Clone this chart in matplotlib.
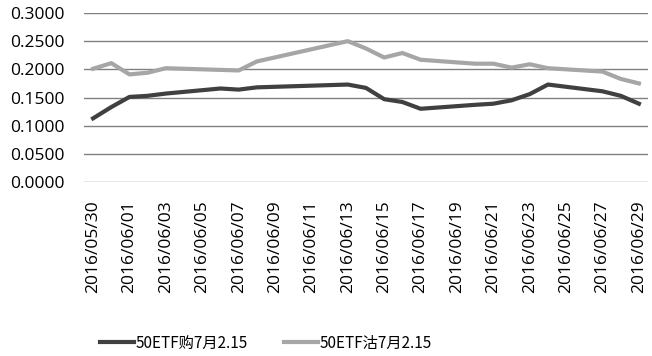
import matplotlib
matplotlib.use("Agg")
import matplotlib.pyplot as plt
import pandas as pd
import numpy as np

plt.rcParams['font.family'] = ['Open Sans', 'Noto Sans CJK SC', 'DejaVu Sans']

dates = ["2016/05/30", "2016/05/31", "2016/06/01", "2016/06/02", "2016/06/03",
         "2016/06/06", "2016/06/07", "2016/06/08", "2016/06/13", "2016/06/14",
         "2016/06/15", "2016/06/16", "2016/06/17", "2016/06/20", "2016/06/21",
         "2016/06/22", "2016/06/23", "2016/06/24", "2016/06/27", "2016/06/28",
         "2016/06/29"]
call_vals = [0.113, 0.133, 0.151, 0.153, 0.157, 0.166, 0.164, 0.168, 0.173, 0.167,
             0.147, 0.142, 0.130, 0.137, 0.139, 0.145, 0.156, 0.173, 0.161, 0.153,
             0.139]
put_vals = [0.201, 0.211, 0.191, 0.194, 0.202, 0.199, 0.198, 0.214, 0.250, 0.237,
            0.221, 0.229, 0.217, 0.210, 0.210, 0.203, 0.209, 0.202, 0.196, 0.183,
            0.175]
series_names = ["50ETF购7月2.15", "50ETF沽7月2.15"]
yticks = [0.0, 0.05, 0.10, 0.15, 0.20, 0.25, 0.30]

dt = pd.to_datetime(dates, format="%Y/%m/%d")
start = dt[0]
x = np.array([(d - start).days for d in dt])
all_days = pd.date_range(dt[0], dt[-1], freq="D")
tick_days = all_days[::2]
tick_pos = [(d - start).days for d in tick_days]
tick_labels = [d.strftime("%Y/%m/%d") for d in tick_days]

fig = plt.figure(figsize=(6.52, 3.56), dpi=100)
ax = fig.add_axes([84/652, 1-182/356, (648-84)/652, (182-13)/356])

ax.plot(x, call_vals, color="#404040", lw=3.0, label=series_names[0], solid_joinstyle='round')
ax.plot(x, put_vals, color="#a6a6a6", lw=3.0, label=series_names[1], solid_joinstyle='round')

ax.set_xlim(-0.5, len(all_days) - 0.5)
ax.set_ylim(0, 0.30)
ax.set_yticks(yticks)
ax.set_yticklabels([f"{v:.4f}" for v in yticks])
ax.set_xticks(tick_pos)
ax.set_xticklabels(tick_labels, rotation=90)
ax.tick_params(axis='both', length=0, labelsize=12.5, colors="#000000")
ax.tick_params(axis='y', pad=14)
ax.tick_params(axis='x', pad=13)
ax.grid(axis='y', color="#808080", lw=1.0)
ax.set_axisbelow(True)
for s in ax.spines.values():
    s.set_visible(False)

leg = fig.legend(loc='center', bbox_to_anchor=(0.408, 1-343/356), ncol=2, frameon=False,
                 handlelength=2.2, handletextpad=0.1, columnspacing=2.4,
                 prop={'family': ['Noto Sans CJK SC'], 'size': 11})

fig.savefig("out.png", dpi=100)
